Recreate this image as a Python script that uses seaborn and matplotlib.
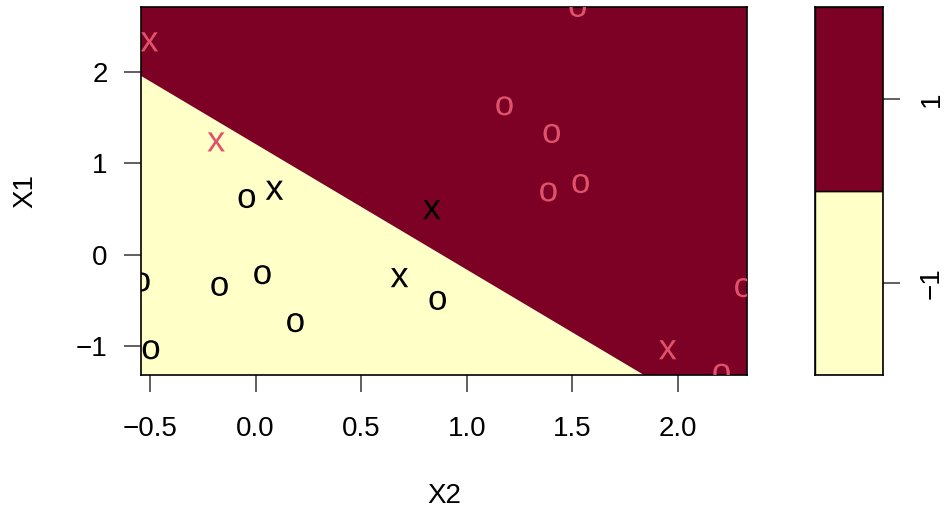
import numpy as np
import pandas as pd
import matplotlib
matplotlib.use("Agg")
import matplotlib.pyplot as plt
import seaborn as sns

# Training observations: X2 on the horizontal axis, X1 on the vertical axis
x2_vals = [-0.503, -0.187, 1.525, 1.178, 1.402, 1.386, 1.539, 2.309, 1.951, 2.206,
           -0.042, 0.089, 0.834, -0.541, -0.171, 0.032, 0.681, 0.862, 0.188, -0.496]
x1_vals = [2.333, 1.236, 2.71, 1.631, 1.328, 0.687, 0.779, -0.362, -1.043, -1.30,
           0.615, 0.706, 0.494, -0.30, -0.348, -0.22, -0.252, -0.502, -0.746, -1.043]
y_class = ["1"] * 10 + ["-1"] * 10
symbol = ["x", "x", "o", "o", "o", "o", "o", "o", "x", "o",
          "o", "x", "x", "o", "o", "o", "x", "o", "o", "o"]

# Linear decision rule: class 1 where X1 > boundary_intercept - boundary_slope * X2
boundary_intercept = 1.212
boundary_slope = 1.377

# Axis ranges and ticks
x_range = (-0.543, 2.325)
y_range = (-1.325, 2.718)
x_ticks = [-0.5, 0.0, 0.5, 1.0, 1.5, 2.0]
x_ticklabels = ["\u22120.5", "0.0", "0.5", "1.0", "1.5", "2.0"]
y_ticks = [-1, 0, 1, 2]
y_ticklabels = ["\u22121", "0", "1", "2"]

# Key levels
key_levels = [-2, 0, 2]
key_ticks = [-1, 1]
key_ticklabels = ["\u22121", "1"]

col_neg = "#FFFFC8"
col_pos = "#7D0025"
pt_colors = {"1": "#DF536B", "-1": "#000000"}

sns.set_theme(style="white")
plt.rcParams["font.family"] = ["Liberation Sans", "DejaVu Sans"]
plt.rcParams["mathtext.fontset"] = "custom"
plt.rcParams["mathtext.rm"] = "Liberation Sans"
plt.rcParams["axes.unicode_minus"] = True
plt.rcParams["text.color"] = "black"
plt.rcParams["axes.labelcolor"] = "black"
plt.rcParams["xtick.color"] = "black"
plt.rcParams["ytick.color"] = "black"

FS = 20

fig = plt.figure(figsize=(9.47, 5.09), dpi=100)
ax = fig.add_axes([0.1489, 0.2623, 0.6396, 0.7245])
cax = fig.add_axes([0.8606, 0.2623, 0.0715, 0.7245])

# Decision regions on a grid
gx = np.linspace(x_range[0], x_range[1], 400)
gy = np.linspace(y_range[0], y_range[1], 400)
GX, GY = np.meshgrid(gx, gy)
F = GY - (boundary_intercept - boundary_slope * GX)
ax.contourf(GX, GY, F, levels=[-100, 0, 100], colors=[col_neg, col_pos], antialiased=True)

df = pd.DataFrame({"X2": x2_vals, "X1": x1_vals, "y": y_class, "sym": symbol})
sns.scatterplot(data=df, x="X2", y="X1", hue="y", style="sym",
                palette=pt_colors,
                markers={"o": "$\\mathregular{o}$", "x": "$\\mathregular{x}$"},
                s=190, linewidth=0, legend=False, ax=ax, clip_on=True, zorder=3)

ax.set_xlim(*x_range)
ax.set_ylim(*y_range)
ax.set_xticks(x_ticks)
ax.set_xticklabels(x_ticklabels)
ax.set_yticks(y_ticks)
ax.set_yticklabels(y_ticklabels)
ax.tick_params(axis="both", which="major", direction="out", length=12, width=1.2,
               color="#444444", labelcolor="black", labelsize=FS, bottom=True, left=True)
ax.tick_params(axis="x", pad=17)
ax.tick_params(axis="y", pad=12)
ax.set_xlabel("X2", fontsize=FS, labelpad=30, color="black")
ax.set_ylabel("X1", fontsize=FS, labelpad=27, color="black")
for sp in ax.spines.values():
    sp.set_visible(True)
    sp.set_color("#000000")
    sp.set_linewidth(1.2)

# Colour key
cax.bar(x=0.5, height=np.diff(key_levels), bottom=key_levels[:-1], width=1.0,
        color=[col_neg, col_pos], edgecolor="#000000", linewidth=1.0)
cax.set_xlim(0, 1)
cax.set_ylim(key_levels[0], key_levels[-1])
cax.set_xticks([])
cax.yaxis.tick_right()
cax.set_yticks(key_ticks)
cax.set_yticklabels(key_ticklabels, rotation=90, va="center")
cax.tick_params(axis="y", direction="out", length=12, width=1.2, color="#444444",
                labelcolor="black", labelsize=FS, right=True, left=False, pad=14)
for sp in cax.spines.values():
    sp.set_visible(True)
    sp.set_color("#000000")
    sp.set_linewidth(1.2)

fig.savefig("out.png", dpi=100)
